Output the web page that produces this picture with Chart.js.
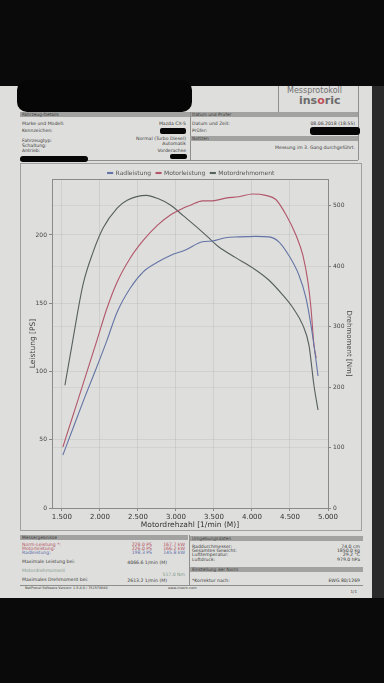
<!DOCTYPE html>
<html><head><meta charset="utf-8">
<script src="https://cdn.jsdelivr.net/npm/chart.js@4.4.1/dist/chart.umd.min.js"></script>
<style>
html,body{margin:0;padding:0;background:#0a0a0a;width:384px;height:683px;overflow:hidden;font-family:"DejaVu Sans",sans-serif;}
#paper{position:absolute;left:0;top:86px;width:372px;height:512px;background:#dededc;}
#edge{position:absolute;left:372px;top:86px;width:12px;height:512px;background:#2a2a2a;}
.t{position:absolute;font-size:4.6px;color:#3a3a3a;white-space:nowrap;line-height:5px;}
.bar{position:absolute;background:#a2a2a0;height:5px;font-size:4.4px;line-height:5px;color:#3c3c3c;padding-left:2px;box-sizing:border-box;}
.blk{position:absolute;background:#060606;border-radius:4px;}
.ln{position:absolute;background:#8e8e8c;}
#frame{position:absolute;left:20px;top:163px;width:342px;height:368px;border:1px solid #a0a09e;box-sizing:border-box;}
#c{position:absolute;left:20px;top:163px;}
</style></head>
<body>
<div id="paper"></div><div id="edge"></div>
<!-- header -->
<div class="blk" style="left:17px;top:80px;width:175px;height:32px;border-radius:10px;"></div>
<div class="ln" style="left:278px;top:86px;width:1px;height:26px;"></div>
<div class="ln" style="left:358px;top:86px;width:1px;height:74px;"></div>
<div class="t" style="left:287px;top:86px;font-size:8px;line-height:10px;color:#707070;">Messprotokoll</div>
<div class="t" style="left:299px;top:95px;font-size:11px;line-height:12px;color:#6c6c6c;font-weight:bold;">ins<span style="color:#c0505a">o</span>ric</div>
<div class="bar" style="left:20px;top:112px;width:170px;">Fahrzeug-Details</div>
<div class="bar" style="left:190px;top:112px;width:168px;">Datum und Prüfer</div>
<div class="ln" style="left:190px;top:112px;width:1px;height:48px;"></div>
<div class="ln" style="left:20px;top:160px;width:338px;height:1px;"></div>
<div class="t" style="left:22px;top:121px;">Marke und Modell:</div>
<div class="t" style="left:22px;top:128px;">Kennzeichen:</div>
<div class="t" style="left:22px;top:138px;">Fahrzeugtyp:</div>
<div class="t" style="left:22px;top:143px;">Schaltung:</div>
<div class="t" style="left:22px;top:148px;">Antrieb:</div>
<div class="t" style="right:198px;top:121px;">Mazda CX-5</div>
<div class="blk" style="left:160px;top:128px;width:26px;height:6px;border-radius:2px;"></div>
<div class="t" style="right:198px;top:136px;">Normal (Turbo Diesel)</div>
<div class="t" style="right:198px;top:141px;">Automatik</div>
<div class="t" style="right:198px;top:148px;">Vorderachse</div>
<div class="blk" style="left:170px;top:154px;width:17px;height:5px;border-radius:2px;"></div>
<div class="blk" style="left:20px;top:156px;width:68px;height:6px;border-radius:3px;"></div>
<div class="t" style="left:192px;top:121px;">Datum und Zeit:</div>
<div class="t" style="right:29px;top:121px;">08.06.2018 (18:55)</div>
<div class="t" style="left:192px;top:128px;">Prüfer:</div>
<div class="blk" style="left:310px;top:127px;width:50px;height:8px;border-radius:3px;"></div>
<div class="bar" style="left:190px;top:136px;width:168px;">Notizen</div>
<div class="t" style="right:29px;top:145px;">Messung im 3. Gang durchgeführt.</div>

<div id="frame"></div>
<canvas id="c" width="342" height="368"></canvas>

<!-- bottom tables -->
<div class="bar" style="left:20px;top:535px;width:168px;">Messergebnisse</div>
<div class="bar" style="left:190px;top:536px;width:173px;">Umgebungsdaten</div>
<div class="ln" style="left:189px;top:535px;width:1px;height:50px;"></div>
<div class="ln" style="left:20px;top:585px;width:343px;height:1px;"></div>
<div class="t" style="left:22px;top:542px;color:#b4505c;">Norm-Leistung *:</div>
<div class="t" style="left:22px;top:546px;color:#b4505c;">Motorleistung:</div>
<div class="t" style="left:22px;top:550px;color:#5a6aa8;">Radleistung:</div>
<div class="t" style="left:22px;top:559px;">Maximale Leistung bei:</div>
<div class="t" style="left:22px;top:568px;color:#7f9a8a;">Motordrehmoment</div>
<div class="t" style="left:22px;top:577px;">Maximales Drehmoment bei:</div>
<div class="t" style="right:232px;top:542px;color:#b4505c;">228.0 PS</div>
<div class="t" style="right:232px;top:546px;color:#b4505c;">226.0 PS</div>
<div class="t" style="right:232px;top:550px;color:#5a6aa8;">198.3 PS</div>
<div class="t" style="right:199px;top:542px;color:#b4505c;">167.7 kW</div>
<div class="t" style="right:199px;top:546px;color:#b4505c;">166.2 kW</div>
<div class="t" style="right:199px;top:550px;color:#5a6aa8;">145.8 kW</div>
<div class="t" style="right:217px;top:560px;">4066.6 1/min (M)</div>
<div class="t" style="right:199px;top:572px;color:#7f9a8a;">517.0 Nm</div>
<div class="t" style="right:217px;top:578px;">2613.2 1/min (M)</div>
<div class="t" style="left:25px;top:586px;font-size:3.4px;">NetProcel Software Version: 1.5.4.0 / 752578880</div>
<div class="t" style="left:168px;top:586px;font-size:3.4px;">www.insoric.com</div>
<div class="t" style="left:192px;top:544px;">Raddurchmesser:</div>
<div class="t" style="left:192px;top:548px;">Gesamtes Gewicht:</div>
<div class="t" style="left:192px;top:552px;">Lufttemperatur:</div>
<div class="t" style="left:192px;top:557px;">Luftdruck:</div>
<div class="t" style="right:24px;top:544px;">74.0 cm</div>
<div class="t" style="right:24px;top:548px;">1850.0 kg</div>
<div class="t" style="right:24px;top:552px;">29.2 °C</div>
<div class="t" style="right:24px;top:557px;">979.0 hPa</div>
<div class="bar" style="left:190px;top:567px;width:173px;">Einstellung der Norm</div>
<div class="t" style="left:192px;top:578px;">*Korrektur nach:</div>
<div class="t" style="right:24px;top:578px;">EWG 80/1269</div>
<div class="t" style="right:27px;top:589px;font-size:4px;">1/1</div>

<script>
// ---- data ----
const seriesNames = ['Radleistung', 'Motorleistung', 'Motordrehmoment'];

const rpmRad = [1513, 1650, 1800, 1950, 2094, 2227, 2398, 2570, 2755, 2927, 3125, 3350, 3482, 3653, 3825, 4050, 4221, 4353, 4485, 4617, 4710, 4776, 4816, 4869];
const radleistung = [38.8, 59, 81, 102, 123, 143.6, 161, 173, 180, 185, 189, 195, 195.6, 198, 198.6, 199, 198.6, 195, 185, 170.7, 154, 134, 119, 96.7];

const rpmMotor = [1513, 1650, 1800, 1962, 2094, 2227, 2398, 2570, 2755, 2927, 3099, 3200, 3350, 3482, 3653, 3825, 4010, 4182, 4314, 4446, 4578, 4670, 4736, 4776, 4816, 4845];
const motorleistung = [44.7, 68.5, 94.6, 123, 146.5, 165.6, 183, 196, 207, 214.6, 219.7, 222, 225, 225, 227, 228, 230, 229, 226, 215, 200, 185, 165.6, 146.5, 119, 110];

const rpmTorque = [1540, 1632, 1777, 1910, 2042, 2227, 2359, 2613, 2755, 2927, 3099, 3297, 3429, 3561, 3785, 4010, 4221, 4406, 4538, 4670, 4750, 4815, 4869];
const motordrehmoment = [203, 269, 369, 423, 463, 496, 509, 517, 512, 501, 483, 462, 447, 432, 414, 397, 377, 352, 331, 302, 269, 203, 162];

const rpmTicks = [1500, 2000, 2500, 3000, 3500, 4000, 4500, 5000];
const powerTicks = [0, 50, 100, 150, 200];
const torqueTicks = [0, 100, 200, 300, 400, 500];

const colors = ['#6474a6', '#b2566a', '#56605e'];
const pts = (xs, ys) => xs.map((x, i) => ({x: x, y: ys[i]}));
const deNum = v => String(v).replace(/\B(?=(\d{3})+(?!\d))/g, '.');

const plotBox = {
  id: 'plotBox',
  afterInit(chart) {
    // keep the legend row compact so the plot starts right below it
    const lg = chart.legend;
    if (lg) {
      const fit = lg.fit.bind(lg);
      lg.fit = function () { fit(); this.height = 14; };
    }
  },
  afterDraw(chart) {
    const {ctx, chartArea: a} = chart;
    ctx.save();
    ctx.strokeStyle = '#8a8a88';
    ctx.lineWidth = 1;
    ctx.strokeRect(Math.round(a.left) + 0.5, Math.round(a.top) + 0.5, Math.round(a.right - a.left), Math.round(a.bottom - a.top));
    ctx.restore();
  }
};

const tickFont = {family: 'DejaVu Sans', size: 6};
new Chart(document.getElementById('c'), {
  type: 'line',
  data: {
    datasets: [
      {label: seriesNames[0], data: pts(rpmRad, radleistung), yAxisID: 'y', borderColor: colors[0], backgroundColor: colors[0]},
      {label: seriesNames[1], data: pts(rpmMotor, motorleistung), yAxisID: 'y', borderColor: colors[1], backgroundColor: colors[1]},
      {label: seriesNames[2], data: pts(rpmTorque, motordrehmoment), yAxisID: 'y2', borderColor: colors[2], backgroundColor: colors[2]}
    ]
  },
  options: {
    responsive: false,
    animation: false,
    devicePixelRatio: 1,
    layout: {padding: {top: 2, left: 0, right: 0, bottom: 0}},
    elements: {
      point: {radius: 0},
      line: {borderWidth: 1.1, cubicInterpolationMode: 'monotone'}
    },
    plugins: {
      tooltip: {enabled: false},
      legend: {
        position: 'top',
        labels: {boxWidth: 5, boxHeight: 1, padding: 5, color: '#555', font: {family: 'DejaVu Sans', size: 6}}
      }
    },
    scales: {
      x: {
        type: 'linear', min: 1370, max: 5000,
        afterBuildTicks: s => { s.ticks = rpmTicks.map(v => ({value: v})); },
        ticks: {callback: v => deNum(v), color: '#333', font: {family: 'DejaVu Sans', size: 7}, padding: 2, maxRotation: 0, autoSkip: false},
        grid: {color: 'rgba(0,0,0,0.07)', tickLength: 3, tickColor: '#888'},
        border: {color: '#8a8a88'},
        title: {display: true, text: 'Motordrehzahl [1/min (M)]', color: '#333', font: {family: 'DejaVu Sans', size: 7.5}, padding: {top: 0, bottom: 1}},
        afterFit: s => { s.height = 23; }
      },
      y: {
        position: 'left', min: 0, max: 241,
        afterBuildTicks: s => { s.ticks = powerTicks.map(v => ({value: v})); },
        ticks: {color: '#444', font: tickFont, padding: 2},
        grid: {color: 'rgba(0,0,0,0.06)', tickLength: 3, tickColor: '#888'},
        border: {color: '#8a8a88'},
        title: {display: true, text: 'Leistung [PS]', color: '#444', font: {family: 'DejaVu Sans', size: 7.5}, padding: {top: 9, bottom: 0}},
        afterFit: s => { s.width = 32; }
      },
      y2: {
        position: 'right', min: 0, max: 544,
        afterBuildTicks: s => { s.ticks = torqueTicks.map(v => ({value: v})); },
        ticks: {color: '#444', font: tickFont, padding: 2},
        grid: {color: 'rgba(0,0,0,0.05)', tickLength: 3, tickColor: '#888'},
        border: {color: '#8a8a88'},
        title: {display: true, text: 'Drehmoment [Nm]', color: '#444', font: {family: 'DejaVu Sans', size: 7}, padding: {top: 9, bottom: 0}},
        afterFit: s => { s.width = 34; }
      }
    }
  },
  plugins: [plotBox]
});
</script>
</body></html>
